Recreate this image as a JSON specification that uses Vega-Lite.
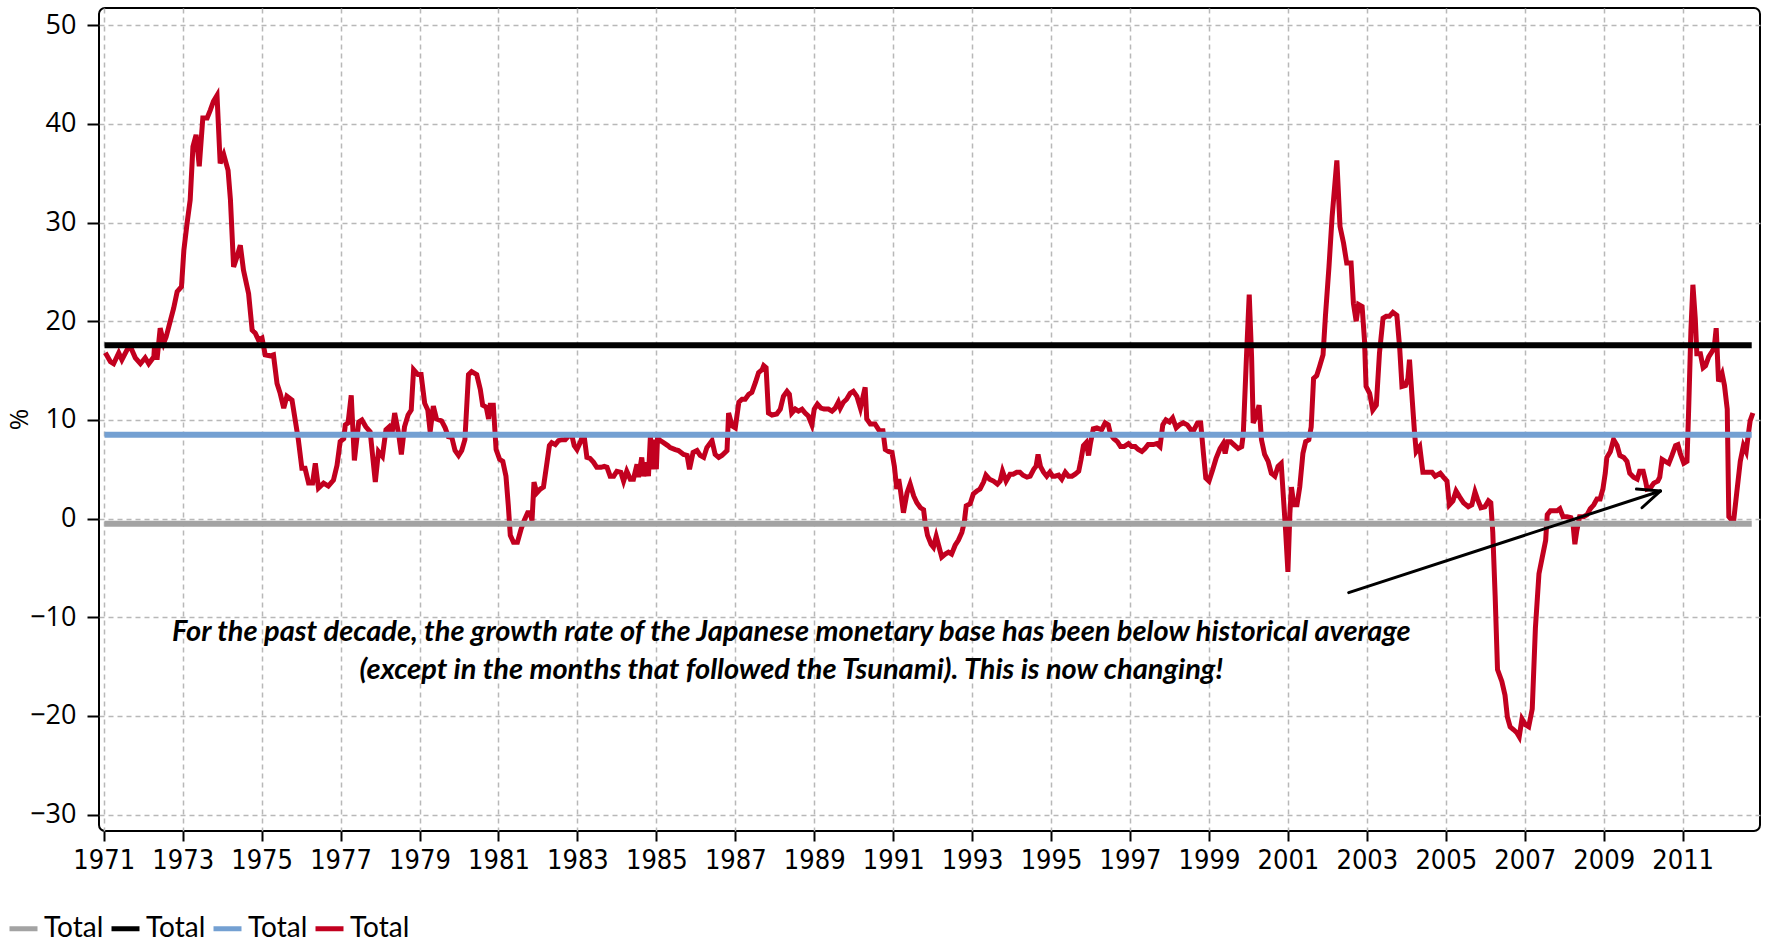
{
  "$schema": "https://vega.github.io/schema/vega-lite/v6.json",
  "width": 1661,
  "height": 823,
  "autosize": {"type": "none"},
  "padding": {"left": 99, "top": 8, "right": 7, "bottom": 112},
  "background": "white",
  "config": {
    "view": {"stroke": "#000000", "strokeWidth": 2, "cornerRadius": 6},
    "axis": {"domain": false, "grid": true, "gridColor": "#b8b8b8", "gridDash": [5, 4], "gridWidth": 1.5, "tickColor": "#000000", "tickWidth": 2, "labelColor": "#000000"}
  },
  "encoding": {
    "x": {"field": "t", "type": "quantitative",
      "scale": {"domain": [1970.88, 2012.96], "nice": false, "zero": false},
      "axis": {"values": [1971,1973,1975,1977,1979,1981,1983,1985,1987,1989,1991,1993,1995,1997,1999,2001,2003,2005,2007,2009,2011], "format": "d", "labelFont": "DejaVu Sans Condensed, Lato, sans-serif", "labelFontSize": 27, "labelPadding": 6, "tickSize": 10, "title": null, "labelFlush": false}},
    "y": {"field": "v", "type": "quantitative",
      "scale": {"domain": [-31.66, 51.75], "nice": false, "zero": false},
      "axis": {"values": [-30,-20,-10,0,10,20,30,40,50], "labelFont": "Open Sans", "labelFontSize": 27, "labelPadding": 11, "tickSize": 12, "title": "%", "titleFont": "Open Sans", "titleFontSize": 26, "titleFontWeight": "normal", "titleX": -80, "titleY": 411, "titleAngle": 270, "titleAlign": "center", "titleBaseline": "middle"}}
  },
  "layer": [
    {
      "data": {"values": [
        {"t":1971.04,"v":16.8},{"t":1971.17,"v":15.9},{"t":1971.25,"v":15.7},{"t":1971.38,"v":16.8},{"t":1971.46,"v":16.1},{"t":1971.59,"v":17.1},{"t":1971.68,"v":17.4},{"t":1971.80,"v":16.3},{"t":1971.93,"v":15.7},{"t":1972.05,"v":16.3},{"t":1972.14,"v":15.7},{"t":1972.27,"v":16.4},{"t":1972.29,"v":17.8},{"t":1972.35,"v":16.1},{"t":1972.43,"v":19.3},{"t":1972.52,"v":17.8},{"t":1972.58,"v":18.4},{"t":1972.69,"v":20.1},{"t":1972.77,"v":21.3},{"t":1972.86,"v":23.0},{"t":1972.97,"v":23.5},
        {"t":1973.03,"v":27.2},{"t":1973.11,"v":29.9},{"t":1973.19,"v":32.3},{"t":1973.26,"v":37.7},{"t":1973.34,"v":38.9},{"t":1973.42,"v":35.7},{"t":1973.51,"v":40.6},{"t":1973.62,"v":40.6},{"t":1973.70,"v":41.4},{"t":1973.78,"v":42.3},{"t":1973.87,"v":42.9},{"t":1973.95,"v":36.0},{"t":1974.04,"v":36.9},{"t":1974.15,"v":35.3},{"t":1974.21,"v":32.3},{"t":1974.29,"v":25.5},{"t":1974.38,"v":26.6},{"t":1974.46,"v":27.7},{"t":1974.54,"v":25.2},{"t":1974.67,"v":22.8},{"t":1974.76,"v":19.1},{"t":1974.84,"v":18.8},{"t":1974.92,"v":18.1},
        {"t":1975.01,"v":18.3},{"t":1975.09,"v":16.6},{"t":1975.22,"v":16.5},{"t":1975.30,"v":16.6},{"t":1975.39,"v":13.7},{"t":1975.47,"v":12.7},{"t":1975.56,"v":11.2},{"t":1975.64,"v":12.4},{"t":1975.77,"v":12.0},{"t":1975.85,"v":10.0},{"t":1975.93,"v":8.0},{"t":1976.02,"v":5.1},{"t":1976.10,"v":5.1},{"t":1976.19,"v":3.6},{"t":1976.29,"v":3.6},{"t":1976.36,"v":5.6},{"t":1976.44,"v":3.1},{"t":1976.57,"v":3.6},{"t":1976.69,"v":3.3},{"t":1976.82,"v":3.9},{"t":1976.91,"v":5.4},{"t":1976.99,"v":7.8},
        {"t":1977.08,"v":8.1},{"t":1977.12,"v":9.5},{"t":1977.19,"v":9.7},{"t":1977.27,"v":12.5},{"t":1977.35,"v":5.9},{"t":1977.46,"v":9.8},{"t":1977.54,"v":10.0},{"t":1977.64,"v":9.3},{"t":1977.75,"v":8.8},{"t":1977.88,"v":3.7},{"t":1977.96,"v":6.8},{"t":1978.06,"v":6.3},{"t":1978.15,"v":9.0},{"t":1978.23,"v":9.3},{"t":1978.30,"v":8.5},{"t":1978.37,"v":10.7},{"t":1978.47,"v":8.6},{"t":1978.54,"v":6.5},{"t":1978.62,"v":9.3},{"t":1978.71,"v":10.5},{"t":1978.79,"v":11.0},{"t":1978.85,"v":15.1},{"t":1978.96,"v":14.6},
        {"t":1979.04,"v":14.6},{"t":1979.13,"v":11.7},{"t":1979.21,"v":11.0},{"t":1979.27,"v":8.8},{"t":1979.35,"v":11.4},{"t":1979.43,"v":10.1},{"t":1979.56,"v":9.9},{"t":1979.65,"v":9.2},{"t":1979.73,"v":8.3},{"t":1979.82,"v":8.2},{"t":1979.90,"v":6.9},{"t":1979.99,"v":6.4},{"t":1980.07,"v":6.9},{"t":1980.15,"v":8.0},{"t":1980.24,"v":14.6},{"t":1980.32,"v":14.9},{"t":1980.45,"v":14.6},{"t":1980.54,"v":13.1},{"t":1980.60,"v":11.5},{"t":1980.69,"v":11.3},{"t":1980.75,"v":10.1},{"t":1980.79,"v":11.5},{"t":1980.87,"v":11.5},{"t":1980.94,"v":7.0},
        {"t":1981.03,"v":6.0},{"t":1981.11,"v":5.8},{"t":1981.19,"v":4.3},{"t":1981.25,"v":1.3},{"t":1981.30,"v":-1.7},{"t":1981.38,"v":-2.4},{"t":1981.48,"v":-2.4},{"t":1981.57,"v":-1.1},{"t":1981.65,"v":-0.2},{"t":1981.74,"v":0.6},{"t":1981.80,"v":0.6},{"t":1981.85,"v":-0.2},{"t":1981.90,"v":3.7},{"t":1981.97,"v":2.6},{"t":1982.06,"v":3.0},{"t":1982.14,"v":3.2},{"t":1982.23,"v":5.7},{"t":1982.29,"v":7.4},{"t":1982.35,"v":7.7},{"t":1982.44,"v":7.5},{"t":1982.52,"v":7.9},{"t":1982.61,"v":8.0},{"t":1982.69,"v":8.0},{"t":1982.78,"v":8.4},{"t":1982.86,"v":8.4},{"t":1982.92,"v":7.4},{"t":1982.99,"v":7.0},
        {"t":1983.07,"v":7.7},{"t":1983.16,"v":8.7},{"t":1983.24,"v":6.2},{"t":1983.32,"v":6.1},{"t":1983.41,"v":5.7},{"t":1983.49,"v":5.2},{"t":1983.60,"v":5.2},{"t":1983.68,"v":5.3},{"t":1983.75,"v":5.2},{"t":1983.83,"v":4.3},{"t":1983.92,"v":4.3},{"t":1984.00,"v":4.8},{"t":1984.10,"v":4.7},{"t":1984.17,"v":3.8},{"t":1984.25,"v":4.8},{"t":1984.34,"v":4.0},{"t":1984.42,"v":4.0},{"t":1984.51,"v":5.5},{"t":1984.55,"v":4.2},{"t":1984.63,"v":6.2},{"t":1984.68,"v":4.3},{"t":1984.76,"v":5.7},{"t":1984.80,"v":4.3},{"t":1984.85,"v":8.4},{"t":1984.89,"v":5.0},{"t":1984.93,"v":8.0},
        {"t":1985.00,"v":5.0},{"t":1985.03,"v":8.2},{"t":1985.10,"v":7.9},{"t":1985.18,"v":7.7},{"t":1985.29,"v":7.4},{"t":1985.35,"v":7.2},{"t":1985.48,"v":7.0},{"t":1985.56,"v":6.9},{"t":1985.69,"v":6.5},{"t":1985.78,"v":6.4},{"t":1985.84,"v":5.0},{"t":1985.93,"v":6.7},{"t":1986.03,"v":6.9},{"t":1986.11,"v":6.4},{"t":1986.20,"v":6.2},{"t":1986.28,"v":7.2},{"t":1986.41,"v":7.9},{"t":1986.49,"v":6.5},{"t":1986.58,"v":6.2},{"t":1986.66,"v":6.4},{"t":1986.79,"v":6.9},{"t":1986.83,"v":10.7},{"t":1986.92,"v":9.4},
        {"t":1987.00,"v":9.2},{"t":1987.09,"v":11.8},{"t":1987.17,"v":12.1},{"t":1987.25,"v":12.1},{"t":1987.34,"v":12.6},{"t":1987.42,"v":12.8},{"t":1987.51,"v":13.8},{"t":1987.59,"v":14.8},{"t":1987.68,"v":15.1},{"t":1987.72,"v":15.5},{"t":1987.78,"v":15.3},{"t":1987.84,"v":10.7},{"t":1987.93,"v":10.5},{"t":1988.05,"v":10.6},{"t":1988.14,"v":11.1},{"t":1988.22,"v":12.4},{"t":1988.31,"v":12.9},{"t":1988.37,"v":12.6},{"t":1988.43,"v":10.7},{"t":1988.52,"v":11.1},{"t":1988.60,"v":10.9},{"t":1988.69,"v":11.1},{"t":1988.77,"v":10.7},{"t":1988.85,"v":10.4},{"t":1988.94,"v":9.5},
        {"t":1989.00,"v":11.1},{"t":1989.08,"v":11.6},{"t":1989.17,"v":11.2},{"t":1989.25,"v":11.1},{"t":1989.36,"v":11.1},{"t":1989.45,"v":10.9},{"t":1989.53,"v":11.2},{"t":1989.61,"v":11.8},{"t":1989.66,"v":11.2},{"t":1989.74,"v":11.8},{"t":1989.82,"v":12.1},{"t":1989.91,"v":12.7},{"t":1989.99,"v":12.9},{"t":1990.08,"v":12.4},{"t":1990.17,"v":11.2},{"t":1990.29,"v":13.3},{"t":1990.33,"v":10.1},{"t":1990.42,"v":9.6},{"t":1990.54,"v":9.6},{"t":1990.65,"v":8.9},{"t":1990.74,"v":8.9},{"t":1990.80,"v":7.0},{"t":1990.88,"v":6.8},{"t":1990.97,"v":6.7},
        {"t":1991.03,"v":5.3},{"t":1991.09,"v":3.0},{"t":1991.14,"v":4.0},{"t":1991.18,"v":3.0},{"t":1991.26,"v":0.6},{"t":1991.35,"v":2.6},{"t":1991.43,"v":3.5},{"t":1991.52,"v":2.3},{"t":1991.60,"v":1.6},{"t":1991.69,"v":1.1},{"t":1991.77,"v":0.9},{"t":1991.81,"v":-0.4},{"t":1991.87,"v":-1.7},{"t":1991.96,"v":-2.6},{"t":1992.02,"v":-2.9},{"t":1992.09,"v":-1.8},{"t":1992.15,"v":-2.7},{"t":1992.23,"v":-3.9},{"t":1992.32,"v":-3.6},{"t":1992.40,"v":-3.4},{"t":1992.48,"v":-3.6},{"t":1992.57,"v":-2.7},{"t":1992.65,"v":-2.2},{"t":1992.74,"v":-1.4},{"t":1992.80,"v":-0.4},{"t":1992.85,"v":1.3},{"t":1992.95,"v":1.5},
        {"t":1993.03,"v":2.5},{"t":1993.12,"v":2.8},{"t":1993.20,"v":3.0},{"t":1993.29,"v":3.7},{"t":1993.35,"v":4.4},{"t":1993.44,"v":4.0},{"t":1993.54,"v":3.8},{"t":1993.64,"v":3.5},{"t":1993.71,"v":3.8},{"t":1993.77,"v":4.8},{"t":1993.86,"v":3.8},{"t":1993.96,"v":4.5},{"t":1994.04,"v":4.5},{"t":1994.13,"v":4.7},{"t":1994.21,"v":4.7},{"t":1994.29,"v":4.4},{"t":1994.39,"v":4.2},{"t":1994.47,"v":4.3},{"t":1994.56,"v":5.0},{"t":1994.62,"v":5.3},{"t":1994.67,"v":6.5},{"t":1994.73,"v":5.3},{"t":1994.81,"v":4.7},{"t":1994.89,"v":4.3},{"t":1994.97,"v":4.7},
        {"t":1995.04,"v":4.3},{"t":1995.10,"v":4.3},{"t":1995.19,"v":4.4},{"t":1995.27,"v":4.0},{"t":1995.36,"v":4.7},{"t":1995.44,"v":4.3},{"t":1995.53,"v":4.3},{"t":1995.61,"v":4.5},{"t":1995.70,"v":4.8},{"t":1995.76,"v":6.0},{"t":1995.82,"v":7.4},{"t":1995.89,"v":7.7},{"t":1995.95,"v":6.4},{"t":1996.00,"v":7.7},{"t":1996.07,"v":9.1},{"t":1996.16,"v":9.2},{"t":1996.28,"v":9.0},{"t":1996.37,"v":9.7},{"t":1996.45,"v":9.5},{"t":1996.51,"v":8.5},{"t":1996.59,"v":8.1},{"t":1996.68,"v":7.8},{"t":1996.76,"v":7.3},{"t":1996.85,"v":7.3},{"t":1996.96,"v":7.6},
        {"t":1997.04,"v":7.3},{"t":1997.13,"v":7.3},{"t":1997.21,"v":7.0},{"t":1997.30,"v":6.8},{"t":1997.38,"v":7.1},{"t":1997.46,"v":7.5},{"t":1997.59,"v":7.5},{"t":1997.68,"v":7.6},{"t":1997.76,"v":7.3},{"t":1997.83,"v":9.5},{"t":1997.91,"v":10.0},{"t":1998.00,"v":9.8},{"t":1998.08,"v":10.2},{"t":1998.17,"v":9.2},{"t":1998.25,"v":9.5},{"t":1998.35,"v":9.7},{"t":1998.45,"v":9.5},{"t":1998.54,"v":9.0},{"t":1998.62,"v":9.0},{"t":1998.71,"v":9.7},{"t":1998.79,"v":9.7},{"t":1998.86,"v":6.6},{"t":1998.92,"v":4.1},
        {"t":1999.00,"v":3.8},{"t":1999.09,"v":4.9},{"t":1999.18,"v":6.1},{"t":1999.28,"v":7.1},{"t":1999.36,"v":7.6},{"t":1999.41,"v":6.6},{"t":1999.47,"v":7.8},{"t":1999.55,"v":7.8},{"t":1999.63,"v":7.5},{"t":1999.74,"v":7.1},{"t":1999.83,"v":7.3},{"t":1999.87,"v":8.6},{"t":1999.95,"v":16.4},{"t":2000.02,"v":22.7},{"t":2000.08,"v":16.4},{"t":2000.12,"v":9.7},{"t":2000.19,"v":10.3},{"t":2000.27,"v":11.5},{"t":2000.33,"v":8.0},{"t":2000.41,"v":6.5},{"t":2000.50,"v":5.8},{"t":2000.58,"v":4.6},{"t":2000.67,"v":4.3},{"t":2000.75,"v":5.3},{"t":2000.83,"v":5.6},{"t":2000.89,"v":1.9},{"t":2000.94,"v":-1.1},
        {"t":2001.00,"v":-5.4},{"t":2001.05,"v":0.5},{"t":2001.09,"v":3.2},{"t":2001.15,"v":1.4},{"t":2001.23,"v":1.4},{"t":2001.30,"v":3.2},{"t":2001.38,"v":6.6},{"t":2001.45,"v":7.8},{"t":2001.53,"v":8.0},{"t":2001.59,"v":9.3},{"t":2001.65,"v":14.2},{"t":2001.73,"v":14.5},{"t":2001.80,"v":15.4},{"t":2001.89,"v":16.6},{"t":2001.95,"v":20.5},{"t":2002.04,"v":25.5},{"t":2002.12,"v":30.6},{"t":2002.24,"v":36.3},{"t":2002.32,"v":29.6},{"t":2002.41,"v":27.9},{"t":2002.49,"v":25.9},{"t":2002.60,"v":25.9},{"t":2002.66,"v":21.8},{"t":2002.73,"v":20.0},{"t":2002.79,"v":21.7},{"t":2002.88,"v":21.5},{"t":2002.94,"v":18.1},{"t":2002.98,"v":13.4},
        {"t":2003.07,"v":12.7},{"t":2003.15,"v":11.0},{"t":2003.24,"v":11.5},{"t":2003.32,"v":16.8},{"t":2003.41,"v":20.3},{"t":2003.49,"v":20.5},{"t":2003.57,"v":20.5},{"t":2003.66,"v":20.9},{"t":2003.76,"v":20.6},{"t":2003.83,"v":17.4},{"t":2003.89,"v":13.4},{"t":2003.98,"v":13.5},{"t":2004.04,"v":14.2},{"t":2004.08,"v":16.1},{"t":2004.15,"v":12.0},{"t":2004.21,"v":8.6},{"t":2004.25,"v":6.8},{"t":2004.34,"v":7.3},{"t":2004.42,"v":4.7},{"t":2004.52,"v":4.7},{"t":2004.65,"v":4.7},{"t":2004.73,"v":4.3},{"t":2004.86,"v":4.6},{"t":2004.94,"v":4.2},
        {"t":2005.03,"v":3.8},{"t":2005.09,"v":1.4},{"t":2005.18,"v":1.8},{"t":2005.26,"v":2.8},{"t":2005.35,"v":2.2},{"t":2005.45,"v":1.6},{"t":2005.57,"v":1.2},{"t":2005.66,"v":1.4},{"t":2005.74,"v":2.7},{"t":2005.80,"v":2.0},{"t":2005.89,"v":1.1},{"t":2005.99,"v":1.2},{"t":2006.08,"v":1.8},{"t":2006.14,"v":1.6},{"t":2006.19,"v":-1.4},{"t":2006.25,"v":-7.8},{"t":2006.31,"v":-15.3},{"t":2006.42,"v":-16.5},{"t":2006.50,"v":-17.9},{"t":2006.56,"v":-20.1},{"t":2006.63,"v":-21.1},{"t":2006.72,"v":-21.4},{"t":2006.80,"v":-21.7},{"t":2006.86,"v":-22.1},{"t":2006.93,"v":-20.3},
        {"t":2007.02,"v":-20.9},{"t":2007.10,"v":-21.1},{"t":2007.19,"v":-19.3},{"t":2007.27,"v":-11.1},{"t":2007.36,"v":-5.6},{"t":2007.44,"v":-4.0},{"t":2007.53,"v":-2.2},{"t":2007.57,"v":0.4},{"t":2007.65,"v":0.8},{"t":2007.74,"v":0.8},{"t":2007.82,"v":0.8},{"t":2007.89,"v":1.0},{"t":2007.97,"v":0.2},{"t":2008.07,"v":0.2},{"t":2008.17,"v":0.1},{"t":2008.22,"v":-0.4},{"t":2008.27,"v":-2.6},{"t":2008.32,"v":-1.2},{"t":2008.39,"v":0.2},{"t":2008.49,"v":0.2},{"t":2008.58,"v":0.4},{"t":2008.66,"v":1.0},{"t":2008.75,"v":1.4},{"t":2008.83,"v":2.0},{"t":2008.91,"v":2.0},{"t":2008.98,"v":3.0},
        {"t":2009.04,"v":4.6},{"t":2009.08,"v":6.2},{"t":2009.17,"v":6.8},{"t":2009.25,"v":8.0},{"t":2009.34,"v":7.4},{"t":2009.41,"v":6.4},{"t":2009.51,"v":6.2},{"t":2009.59,"v":5.8},{"t":2009.66,"v":4.6},{"t":2009.76,"v":4.2},{"t":2009.85,"v":4.0},{"t":2009.91,"v":4.8},{"t":2010.00,"v":4.8},{"t":2010.06,"v":3.8},{"t":2010.10,"v":3.0},{"t":2010.18,"v":3.1},{"t":2010.27,"v":3.6},{"t":2010.37,"v":3.8},{"t":2010.42,"v":4.2},{"t":2010.48,"v":6.0},{"t":2010.56,"v":5.8},{"t":2010.65,"v":5.6},{"t":2010.73,"v":6.4},{"t":2010.82,"v":7.4},{"t":2010.88,"v":7.5},{"t":2010.94,"v":6.6},
        {"t":2011.03,"v":5.6},{"t":2011.11,"v":5.8},{"t":2011.15,"v":10.7},{"t":2011.21,"v":19.1},{"t":2011.26,"v":23.7},{"t":2011.32,"v":20.3},{"t":2011.36,"v":16.7},{"t":2011.45,"v":16.7},{"t":2011.52,"v":15.3},{"t":2011.58,"v":15.5},{"t":2011.66,"v":16.4},{"t":2011.74,"v":16.9},{"t":2011.80,"v":17.3},{"t":2011.85,"v":19.3},{"t":2011.91,"v":13.9},{"t":2012.00,"v":14.7},{"t":2012.06,"v":13.5},{"t":2012.13,"v":11.1},{"t":2012.17,"v":0.2},{"t":2012.23,"v":-0.1},{"t":2012.29,"v":-0.3},{"t":2012.37,"v":2.6},{"t":2012.46,"v":5.8},{"t":2012.54,"v":7.4},{"t":2012.61,"v":6.8},{"t":2012.67,"v":8.7},{"t":2012.71,"v":9.9},{"t":2012.78,"v":10.7}
      ]},
      "transform": [{"calculate": "'d'", "as": "s"}],
      "mark": {"type": "line", "strokeWidth": 5, "strokeJoin": "miter"},
      "encoding": {
        "color": {"field": "s", "type": "nominal",
          "scale": {"domain": ["a", "b", "c", "d"], "range": ["#a3a3a3", "#000000", "#74a0d2", "#c2001f"]},
          "legend": {"orient": "none", "legendX": -92, "legendY": 904, "direction": "horizontal", "title": null, "symbolType": "stroke", "symbolStrokeWidth": 5, "symbolSize": 784, "labelFont": "Lato", "labelFontSize": 28, "labelColor": "#000000", "labelOffset": 4, "columnPadding": -3, "labelExpr": "'Total'"}}
      }
    },
    {
      "data": {"values": [
        {"s": "a", "t": 1971.02, "v": -0.53}, {"s": "a", "t": 2012.75, "v": -0.53},
        {"s": "b", "t": 1971.02, "v": 17.56}, {"s": "b", "t": 2012.75, "v": 17.56},
        {"s": "c", "t": 1971.02, "v": 8.5}, {"s": "c", "t": 2012.75, "v": 8.5}
      ]},
      "mark": {"type": "line", "strokeWidth": 6},
      "encoding": {
        "color": {"field": "s", "type": "nominal",
          "scale": {"domain": ["a", "b", "c", "d"], "range": ["#a3a3a3", "#000000", "#74a0d2", "#c2001f"]}}
      }
    },
    {
      "data": {"values": [
        {"t": 2002.54, "v": -7.5, "t2": 2010.44, "v2": 2.8},
        {"t": 2010.44, "v": 2.8, "t2": 2009.83, "v2": 3.0},
        {"t": 2010.44, "v": 2.8, "t2": 2009.97, "v2": 1.1}
      ]},
      "mark": {"type": "rule", "color": "#000000", "strokeWidth": 3, "strokeCap": "round"},
      "encoding": {
        "x2": {"field": "t2"},
        "y2": {"field": "v2"}
      }
    },
    {
      "data": {"values": [
        {"t": 1988.42, "v": -11.5, "label": "For the past decade, the growth rate of the Japanese monetary base has been below historical average"},
        {"t": 1988.42, "v": -15.3, "label": "(except in the months that followed the Tsunami). This is now changing!"}
      ]},
      "mark": {"type": "text", "font": "Lato", "fontSize": 29, "fontStyle": "italic", "fontWeight": "bold", "align": "center", "baseline": "middle", "color": "#000000"},
      "encoding": {
        "text": {"field": "label"}
      }
    }
  ]
}
